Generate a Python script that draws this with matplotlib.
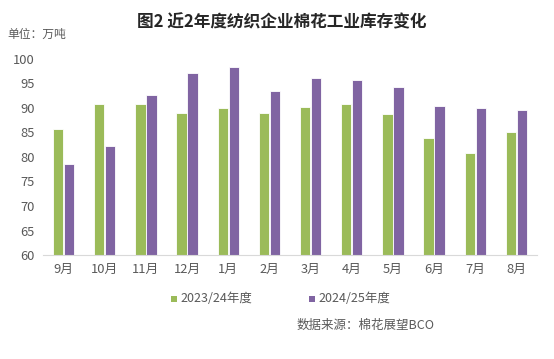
import numpy as np
import matplotlib.pyplot as plt
from matplotlib.patches import Rectangle

plt.rcParams['font.family'] = ['Noto Sans CJK SC', 'DejaVu Sans']

months = ['9月', '10月', '11月', '12月', '1月', '2月', '3月', '4月', '5月', '6月', '7月', '8月']
season_2324 = [85.8, 90.8, 90.8, 88.9, 89.9, 89.0, 90.2, 90.8, 88.7, 83.8, 80.8, 85.1]
season_2425 = [78.6, 82.3, 92.7, 97.2, 98.3, 93.4, 96.1, 95.7, 94.3, 90.5, 90.1, 89.5]
series_names = ['2023/24年度', '2024/25年度']
yticks = [60, 65, 70, 75, 80, 85, 90, 95, 100]

green = '#9BBB59'
purple = '#8064A2'
tick_col = '#595959'

fig = plt.figure(figsize=(5.54, 3.59), dpi=100)
ax = fig.add_axes([43/554, 1 - 255/359, 494/554, 196/359])

x = np.arange(len(months))
w = 0.25
ax.bar(x - w/2 - 0.01, season_2324, width=w, bottom=0, color=green, edgecolor='white', linewidth=0.6)
ax.bar(x + w/2 + 0.01, season_2425, width=w, bottom=0, color=purple, edgecolor='white', linewidth=0.6)

ax.set_xlim(-0.5, len(months) - 0.5)
ax.set_ylim(60, 100)
ax.set_yticks(yticks)
ax.set_xticks(x)
ax.set_xticklabels(months)
ax.tick_params(axis='both', length=0, labelsize=9.3, colors=tick_col, pad=6)
for s in ['top', 'right', 'left']:
    ax.spines[s].set_visible(False)
ax.spines['bottom'].set_color('#D9D9D9')
ax.spines['bottom'].set_linewidth(0.8)

fig.text(282/554, 1 - 22/359, '图2 近2年度纺织企业棉花工业库存变化', ha='center', va='center',
         fontsize=12, fontweight='bold', color='#262626')
fig.text(7/554, 1 - 34/359, '单位：万吨', ha='left', va='center', fontsize=8.5, color=tick_col)

# legend
for i, (name, col) in enumerate(zip(series_names, [green, purple])):
    x0 = [171, 309][i]
    fig.patches.append(Rectangle((x0/554, 1 - 302/359), 6/554, 6/359, transform=fig.transFigure,
                                 facecolor=col, edgecolor='none'))
    fig.text((x0 + 9)/554, 1 - 298/359, name, ha='left', va='center', fontsize=9, color=tick_col)

fig.text(366/554, 1 - 325/359, '数据来源：棉花展望BCO', ha='center', va='center', fontsize=9, color=tick_col)

fig.savefig('out.png', dpi=100)
